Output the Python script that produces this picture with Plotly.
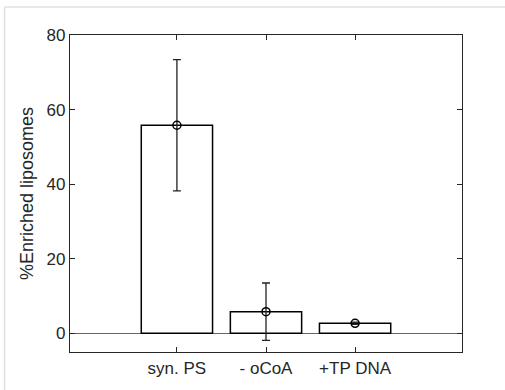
import plotly.graph_objects as go

categories = ["syn. PS", "- oCoA", "+TP DNA"]
means = [55.8, 5.8, 2.7]
errors = [17.6, 7.7, 0.3]
y_ticks = [0, 20, 40, 60, 80]

xpos = [1, 2, 3]
AX = "#262626"
FONT = "Liberation Sans, Arial, sans-serif"

fig = go.Figure()
fig.add_trace(go.Bar(
    x=xpos, y=means, width=0.8,
    marker=dict(color="white", line=dict(color="black", width=1.5)),
    showlegend=False, hoverinfo="skip",
))
fig.add_trace(go.Scatter(
    x=xpos, y=means, mode="markers",
    marker=dict(symbol="circle-open", size=8, color="black", line=dict(width=1.5)),
    error_y=dict(type="data", array=errors, visible=True, color="#222222", thickness=1.3, width=4),
    showlegend=False, hoverinfo="skip",
))

fig.update_layout(
    width=505, height=390,
    margin=dict(l=70, r=43, t=35, b=38),
    paper_bgcolor="white", plot_bgcolor="white",
    font=dict(family=FONT, size=17, color=AX),
    xaxis=dict(
        range=[-0.2, 4.2], tickmode="array", tickvals=xpos, ticktext=categories,
        showgrid=False, zeroline=False, showline=True, linecolor=AX, linewidth=1.3,
        mirror="ticks", ticks="inside", ticklen=5, tickcolor=AX, tickwidth=1,
        tickfont=dict(size=17, color=AX),
    ),
    yaxis=dict(
        range=[-5, 80], tickmode="array", tickvals=y_ticks,
        showgrid=False, zeroline=True, zerolinecolor="#666666", zerolinewidth=1,
        showline=True, linecolor=AX, linewidth=1.3,
        mirror="ticks", ticks="inside", ticklen=5, tickcolor=AX, tickwidth=1,
        tickfont=dict(size=17, color=AX),
        title=dict(text="%Enriched liposomes", font=dict(size=18, color=AX), standoff=8),
    ),
    shapes=[
        dict(type="line", xref="paper", yref="paper", x0=-0.167, x1=1.2, y0=1.088, y1=1.088,
             line=dict(color="#e0e0e0", width=1.5)),
        dict(type="line", xref="paper", yref="paper", x0=-0.167, x1=-0.167, y0=-0.2, y1=1.088,
             line=dict(color="#e0e0e0", width=1.5)),
    ],
)

fig.write_html("out.html")
